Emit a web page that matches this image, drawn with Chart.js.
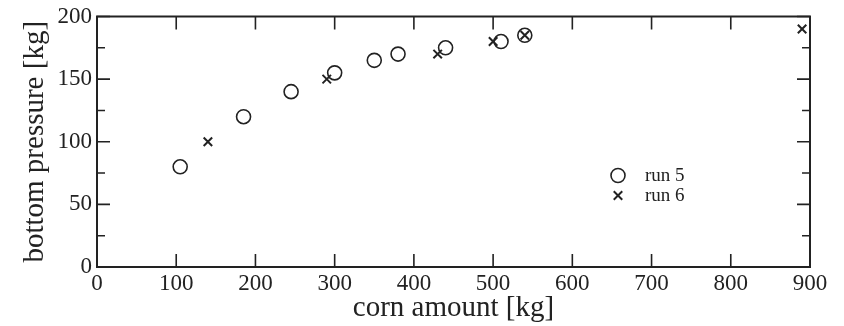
<!DOCTYPE html>
<html>
<head>
<meta charset="utf-8">
<script src="https://cdn.jsdelivr.net/npm/chart.js@4"></script>
<style>
  html, body { margin: 0; padding: 0; background: #fff; }
  #wrap { width: 844px; height: 326px; }
</style>
</head>
<body>
<div id="wrap"><canvas id="scatterChart"></canvas></div>
<script>
// Dados
const run5X = [105, 185, 245, 300, 350, 380, 440, 510, 540];
const run5Y = [80, 120, 140, 155, 165, 170, 175, 180, 185];
const run6X = [140, 290, 430, 500, 540, 890];
const run6Y = [100, 150, 170, 180, 185, 190];
const seriesNames = ['run 5', 'run 6'];
const xTicks = [0, 100, 200, 300, 400, 500, 600, 700, 800, 900];
const yTicks = [0, 50, 100, 150, 200];
const yMinorTicks = [25, 75, 125, 175];

const serif = "'Liberation Serif', 'DejaVu Serif', serif";
const ink = '#222';

function toPoints(xs, ys) {
    return xs.map((x, i) => ({ x: x, y: ys[i] }));
}

// Ticks para dentro nos quatro lados + moldura
const frameTicks = {
    id: 'frameTicks',
    afterDraw(chart) {
        const ctx = chart.ctx;
        const a = chart.chartArea;
        const xs = chart.scales.x;
        const ys = chart.scales.y;
        ctx.save();
        ctx.strokeStyle = ink;
        ctx.lineWidth = 1.6;
        ctx.beginPath();
        xTicks.forEach(v => {
            const px = xs.getPixelForValue(v);
            ctx.moveTo(px, a.bottom); ctx.lineTo(px, a.bottom - 13);
            ctx.moveTo(px, a.top); ctx.lineTo(px, a.top + 13);
        });
        yTicks.forEach(v => {
            const py = ys.getPixelForValue(v);
            ctx.moveTo(a.left, py); ctx.lineTo(a.left + 13, py);
            ctx.moveTo(a.right, py); ctx.lineTo(a.right - 13, py);
        });
        yMinorTicks.forEach(v => {
            const py = ys.getPixelForValue(v);
            ctx.moveTo(a.left, py); ctx.lineTo(a.left + 8, py);
            ctx.moveTo(a.right, py); ctx.lineTo(a.right - 8, py);
        });
        ctx.stroke();
        ctx.lineWidth = 2;
        ctx.strokeRect(a.left, a.top, a.right - a.left, a.bottom - a.top);
        ctx.restore();
    }
};

// Legenda desenhada dentro da área do gráfico
const innerLegend = {
    id: 'innerLegend',
    afterDraw(chart) {
        const ctx = chart.ctx;
        const a = chart.chartArea;
        const x0 = a.left + 521;
        const y0 = a.top + 159;
        ctx.save();
        chart.data.datasets.forEach((ds, i) => {
            const y = y0 + i * 20;
            ctx.fillStyle = 'rgba(0,0,0,0)';
            ctx.strokeStyle = ink;
            ctx.lineWidth = ds.borderWidth;
            Chart.helpers.drawPoint(ctx, {
                pointStyle: ds.pointStyle,
                radius: ds.pointRadius,
                borderWidth: ds.borderWidth
            }, x0, y);
            ctx.font = '19px ' + serif;
            ctx.fillStyle = ink;
            ctx.textBaseline = 'middle';
            ctx.fillText(seriesNames[i], x0 + 27, y + 1);
        });
        ctx.restore();
    }
};

const ctx = document.getElementById('scatterChart').getContext('2d');
const scatterChart = new Chart(ctx, {
    type: 'scatter',
    data: {
        datasets: [{
            label: seriesNames[0],
            data: toPoints(run5X, run5Y),
            pointStyle: 'circle',
            pointRadius: 7,
            borderWidth: 1.6,
            borderColor: ink,
            backgroundColor: 'rgba(0,0,0,0)',
        }, {
            label: seriesNames[1],
            data: toPoints(run6X, run6Y),
            pointStyle: 'crossRot',
            pointRadius: 6,
            borderWidth: 2,
            borderColor: ink,
            backgroundColor: ink,
        }]
    },
    options: {
        responsive: true,
        maintainAspectRatio: false,
        animation: false,
        layout: { padding: { top: 16, right: 34, left: 0, bottom: 0 } },
        plugins: {
            legend: { display: false },
            tooltip: { enabled: false },
        },
        scales: {
            x: {
                type: 'linear',
                min: 0, max: 900,
                afterFit(scale) { scale.height = 59; },
                afterBuildTicks(scale) { scale.ticks = xTicks.map(v => ({ value: v })); },
                grid: { display: false, drawTicks: false },
                border: { display: false },
                ticks: {
                    padding: 3,
                    color: ink,
                    font: { family: serif, size: 23 },
                    maxRotation: 0,
                },
                title: {
                    display: true,
                    text: 'corn amount [kg]',
                    color: ink,
                    font: { family: serif, size: 29 },
                    padding: { top: 0, bottom: 0 },
                },
            },
            y: {
                type: 'linear',
                min: 0, max: 200,
                afterFit(scale) { scale.width = 97; },
                afterBuildTicks(scale) { scale.ticks = yTicks.map(v => ({ value: v })); },
                grid: { display: false, drawTicks: false },
                border: { display: false },
                ticks: {
                    padding: 5,
                    color: ink,
                    font: { family: serif, size: 23, lineHeight: 1 },
                },
                title: {
                    display: true,
                    text: 'bottom pressure [kg]',
                    color: ink,
                    font: { family: serif, size: 29 },
                    padding: { top: 18, bottom: 0 },
                },
            },
        },
    },
    plugins: [frameTicks, innerLegend],
});
</script>
</body>
</html>
